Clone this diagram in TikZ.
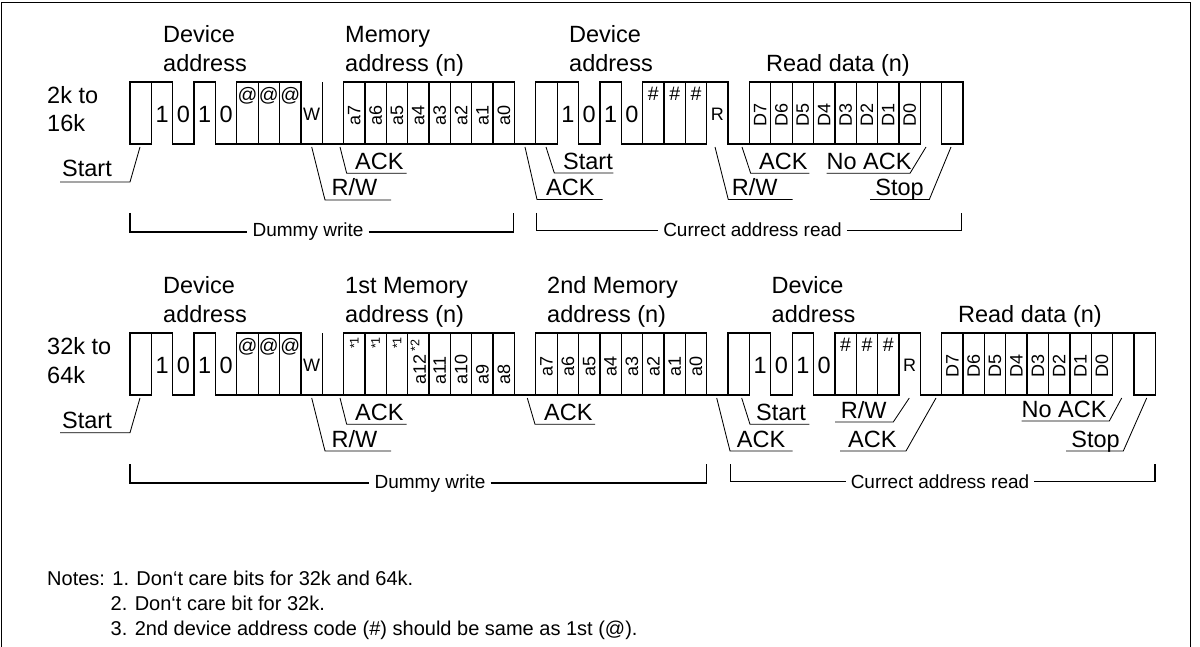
\documentclass[tikz,border=0pt]{standalone}
\usepackage{fontspec}
\setmainfont{Liberation Sans}
\tikzset{
  wave/.style={line width=1.3pt, line join=miter},
  lead/.style={line width=0.85pt},
  brk/.style={line width=1.2pt},
  big/.style={font=\fontsize{23.5}{28}\selectfont, inner sep=0pt},
  sml/.style={font=\fontsize{19}{22}\selectfont, inner sep=5pt},
  note/.style={font=\fontsize{20}{24}\selectfont, inner sep=0pt, anchor=base west},
  bitv/.style={font=\fontsize{23.5}{28}\selectfont, inner sep=0pt},
  rw/.style={font=\fontsize{18}{20}\selectfont, inner sep=0pt},
  atc/.style={font=\fontsize{19.5}{20}\selectfont, inner sep=0pt},
  hsh/.style={font=\fontsize{19.5}{20}\selectfont, inner sep=0pt},
  rot/.style={font=\fontsize{18}{20}\selectfont, inner sep=0pt, rotate=90},
  star/.style={font=\fontsize{12.5}{14}\selectfont, inner sep=0pt, rotate=90},
}
\begin{document}
\begin{tikzpicture}[x=1pt,y=-1pt]
\useasboundingbox (0,0) rectangle (1200,647);
\fill[white] (0,0) rectangle (1200,647);
\draw[line width=1.1pt] (1.5,650) -- (1.5,2.5) -- (1190.5,2.5) -- (1190.5,650);

% ---------------- Row 1 ----------------
\foreach \i in {0,5,6,7,10,11,12,13,14,15,16,17,19,24,25,26,29,30,31,32,33,34,35,36,38}
  \draw[wave] ({130+21.36*\i},82) rectangle ({130+21.36*(\i+1)},144);
\draw[wave] (151.36,144) -- (151.36,82) -- (172.72,82) -- (172.72,144) -- (194.08,144) -- (194.08,82) -- (215.44,82) -- (215.44,144) -- (236.8,144);
\draw[wave] (300.88,144) -- (343.6,144);
\draw[wave] (322.24,144) -- (322.24,82);
\draw[wave] (514.48,144) -- (535.84,144);
\draw[wave] (557.2,144) -- (557.2,82) -- (578.56,82) -- (578.56,144) -- (599.92,144) -- (599.92,82) -- (621.28,82) -- (621.28,144) -- (642.64,144);
\draw[wave] (706.72,82) -- (728.08,82) -- (728.08,144) -- (749.44,144);
\draw[wave] (920.32,82) -- (941.68,82);

\foreach \i/\t [count=\k] in {1/1,2/0,3/1,4/0,20/1,21/0,22/1,23/0}
  \node[bitv] (ra\k) at ({140.68+21.36*\i},114) {\t};
\foreach \i [count=\k] in {5,6,7}
  \node[atc] (rb\k) at ({140.68+21.36*\i},96) {@};
\foreach \i [count=\k] in {24,25,26}
  \node[hsh] (rc\k) at ({140.68+21.36*\i},94) {\#};
\node[rw] (rw1) at ({140.68+21.36*8},114) {W};
\node[rw] (rr1) at ({140.68+21.36*27},114) {R};
\foreach \i/\t [count=\k] in {10/a7,11/a6,12/a5,13/a4,14/a3,15/a2,16/a1,17/a0,29/D7,30/D6,31/D5,32/D4,33/D3,34/D2,35/D1,36/D0}
  \node[rot] (rd\k) at ({140.68+21.36*\i},115) {\t};

\node[big,anchor=base west] (lab1a) at (47,104) {2k to};
\node[big,anchor=base west] (lab1b) at (47,132) {16k};
\node[big,anchor=base west] (h1a) at (163,43) {Device};
\node[big,anchor=base west] (h1b) at (163,72) {address};
\node[big,anchor=base west] (h1c) at (345,43) {Memory};
\node[big,anchor=base west] (h1d) at (345,72) {address (n)};
\node[big,anchor=base west] (h1e) at (569,43) {Device};
\node[big,anchor=base west] (h1f) at (569,72) {address};
\node[big,anchor=base east] (h1g) at (910,72) {Read data (n)};

% leaders row 1
\node[big,anchor=base west] (s1) at (62,177) {Start};
\draw[lead] (140,147) -- (130,182) -- (60,182);
\node[big,anchor=base west] (s2) at (331.5,196) {R/W};
\draw[lead] (311.7,147) -- (325,200) -- (391,200);
\node[big,anchor=base west] (s3) at (355,169.5) {ACK};
\draw[lead] (340,147) -- (346.7,173.3) -- (406.7,173.3);
\node[big,anchor=base west] (s4) at (546,196) {ACK};
\draw[lead] (525,147) -- (537,199.5) -- (602.7,199.5);
\node[big,anchor=base west] (s5) at (563,169.5) {Start};
\draw[lead] (546,147) -- (554.3,173) -- (613.3,173);
\node[big,anchor=base west] (s6) at (731.7,196) {R/W};
\draw[lead] (715,147) -- (728.3,199.5) -- (792.7,199.5);
\node[big,anchor=base west] (s7) at (759,169.5) {ACK};
\draw[lead] (742,147) -- (750.7,173.3) -- (809.3,173.3);
\node[big,anchor=base east] (s8) at (911.7,169.5) {No ACK};
\draw[lead] (926,147) -- (910,173.3) -- (826.7,173.3);
\node[big,anchor=base east] (s9) at (924,196) {Stop};
\draw[lead] (951,147) -- (929.3,199.5) -- (870,199.5);

% brackets row 1
\node[sml,anchor=base] (dw1) at (308,237) {Dummy write};
\draw[brk] (130,213) |- (dw1.west);
\draw[brk] (dw1.east) -| (513.3,213);
\node[sml,anchor=base] (cr1) at (752.5,237) {Currect address read};
\draw[brk] (536.7,213) |- (cr1.west);
\draw[brk] (cr1.east) -| (961.7,213);

% ---------------- Row 2 ----------------
\foreach \i in {0,5,6,7,10,11,12,13,14,15,16,17,19,20,21,22,23,24,25,26,28,33,34,35,38,39,40,41,42,43,44,45,47}
  \draw[wave] ({130+21.36*\i},333) rectangle ({130+21.36*(\i+1)},395);
\draw[wave] (151.36,395) -- (151.36,333) -- (172.72,333) -- (172.72,395) -- (194.08,395) -- (194.08,333) -- (215.44,333) -- (215.44,395) -- (236.8,395);
\draw[wave] (300.88,395) -- (343.6,395);
\draw[wave] (322.24,395) -- (322.24,333);
\draw[wave] (514.48,395) -- (535.84,395);
\draw[wave] (706.72,395) -- (728.08,395);
\draw[wave] (749.44,395) -- (749.44,333) -- (770.8,333) -- (770.8,395) -- (792.16,395) -- (792.16,333) -- (813.52,333) -- (813.52,395) -- (834.88,395);
\draw[wave] (898.96,333) -- (920.32,333) -- (920.32,395) -- (941.68,395);
\draw[wave] (1112.56,333) -- (1133.92,333);

\foreach \i/\t [count=\k] in {1/1,2/0,3/1,4/0,29/1,30/0,31/1,32/0}
  \node[bitv] (qa\k) at ({140.68+21.36*\i},365) {\t};
\foreach \i [count=\k] in {5,6,7}
  \node[atc] (qb\k) at ({140.68+21.36*\i},347) {@};
\foreach \i [count=\k] in {33,34,35}
  \node[hsh] (qc\k) at ({140.68+21.36*\i},345) {\#};
\node[rw] (rw2) at ({140.68+21.36*8},365) {W};
\node[rw] (rr2) at ({140.68+21.36*36},365) {R};
\foreach \i [count=\k] in {10,11,12}
  \node[star] (qs\k) at ({140.68+21.36*\i},343) {*1};
\node[rot,anchor=west] (qt1) at ({140.68+21.36*13},385) {a12\,\raisebox{0.35em}{\fontsize{12.5}{14}\selectfont *2}};
\foreach \i/\t [count=\k] in {14/a11,15/a10,16/a9,17/a8}
  \node[rot,anchor=west] (qu\k) at ({140.68+21.36*\i},385) {\t};
\foreach \i/\t [count=\k] in {19/a7,20/a6,21/a5,22/a4,23/a3,24/a2,25/a1,26/a0,38/D7,39/D6,40/D5,41/D4,42/D3,43/D2,44/D1,45/D0}
  \node[rot] (qd\k) at ({140.68+21.36*\i},366) {\t};

\node[big,anchor=base west] (lab2a) at (47,354) {32k to};
\node[big,anchor=base west] (lab2b) at (47,383) {64k};
\node[big,anchor=base west] (h2a) at (163,294) {Device};
\node[big,anchor=base west] (h2b) at (163,323) {address};
\node[big,anchor=base west] (h2c) at (345,294) {1st Memory};
\node[big,anchor=base west] (h2d) at (345,323) {address (n)};
\node[big,anchor=base west] (h2e) at (547,294) {2nd Memory};
\node[big,anchor=base west] (h2f) at (547,323) {address (n)};
\node[big,anchor=base west] (h2g) at (771.5,294) {Device};
\node[big,anchor=base west] (h2h) at (771.5,323) {address};
\node[big,anchor=base east] (h2i) at (1102,323) {Read data (n)};

% leaders row 2
\node[big,anchor=base west] (t1) at (62,428) {Start};
\draw[lead] (140,398) -- (130,432.7) -- (60,432.7);
\node[big,anchor=base west] (t2) at (331.5,447) {R/W};
\draw[lead] (311.7,398) -- (325,451) -- (391,451);
\node[big,anchor=base west] (t3) at (355,420.5) {ACK};
\draw[lead] (340,398) -- (346.7,424.3) -- (406.7,424.3);
\node[big,anchor=base west] (t4) at (544,420.5) {ACK};
\draw[lead] (527.3,398) -- (535,424.3) -- (595,424.3);
\node[big,anchor=base west] (t5) at (736.7,447) {ACK};
\draw[lead] (716.7,398) -- (730,451) -- (792.7,451);
\node[big,anchor=base west] (t6) at (756,420.5) {Start};
\draw[lead] (741.7,398) -- (750,424.3) -- (809.3,424.3);
\node[big,anchor=base east] (t7) at (886.7,418) {R/W};
\draw[lead] (909.3,398) -- (893.3,422) -- (835,422);
\node[big,anchor=base east] (t8) at (896.7,447) {ACK};
\draw[lead] (936,398) -- (906,451) -- (840,451);
\node[big,anchor=base east] (t9) at (1106.7,417) {No ACK};
\draw[lead] (1121.7,398) -- (1109.3,421) -- (1021.7,421);
\node[big,anchor=base east] (t10) at (1120,447) {Stop};
\draw[lead] (1146.7,398) -- (1123.3,451) -- (1066,451);

% brackets row 2
\node[sml,anchor=base] (dw2) at (430,488) {Dummy write};
\draw[brk] (130,464) |- (dw2.west);
\draw[brk] (dw2.east) -| (706.7,464);
\node[sml,anchor=base] (cr2) at (940,488) {Currect address read};
\draw[brk] (730.5,464) |- (cr2.west);
\draw[brk] (cr2.east) -| (1155,464);

% notes
\node[note] (n1) at (47,585) {Notes: 1. Don‘t care bits for 32k and 64k.};
\node[note] (n2) at (110.5,610) {2. Don‘t care bit for 32k.};
\node[note] (n3) at (110.5,635) {3. 2nd device address code (\#) should be same as 1st (@).};
\end{tikzpicture}
\end{document}
